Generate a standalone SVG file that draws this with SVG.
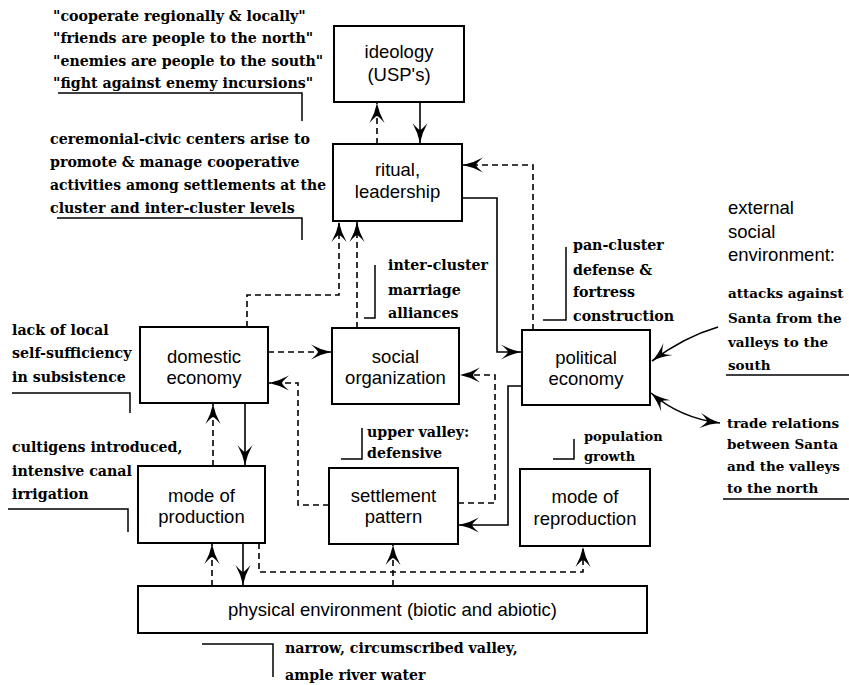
<svg xmlns="http://www.w3.org/2000/svg" width="849" height="685" viewBox="0 0 849 685">
<style>
.box{fill:#fff;stroke:#000;stroke-width:2}
.bt{font-family:"Liberation Sans",Arial,sans-serif;font-size:18.5px;fill:#000;text-anchor:middle}
.ann{font-family:"DejaVu Serif","Liberation Serif",serif;font-weight:bold;font-size:14.2px;fill:#000}
.sm{font-size:13px}
.rt{font-size:13.5px}
.ext{font-family:"Liberation Sans",Arial,sans-serif;font-size:18.5px;fill:#000}
.ln{fill:none;stroke:#000;stroke-width:1.5}
.solid{fill:none;stroke:#000;stroke-width:1.6}
.dash{fill:none;stroke:#000;stroke-width:1.6;stroke-dasharray:6 4}
</style>
<defs>
<marker id="ah" viewBox="-22 -10 24 20" refX="0" refY="0" markerWidth="24" markerHeight="20" markerUnits="userSpaceOnUse" orient="auto-start-reverse">
<path d="M0,0 Q-10,-2 -20,-7.5 Q-14,-2.5 -13,0 Q-14,2.5 -20,7.5 Q-10,2 0,0 Z" fill="#000"/>
</marker>
</defs>

<g id="connectors">
<path class="dash" d="M377,144 V103" marker-end="url(#ah)"/>
<path class="solid" d="M420,102 V143" marker-end="url(#ah)"/>
<path class="dash" d="M247,327 V295 H339 V222" marker-end="url(#ah)"/>
<path class="dash" d="M357,328 V222" marker-end="url(#ah)"/>
<path class="dash" d="M533,330 V165 H463" marker-end="url(#ah)"/>
<path class="solid" d="M462,198 H497 V352 H521" marker-end="url(#ah)"/>
<path class="dash" d="M268,352 H331" marker-end="url(#ah)"/>
<path class="dash" d="M329,505 H298 V383 H269" marker-end="url(#ah)"/>
<path class="dash" d="M458,503 H495 V375 H460" marker-end="url(#ah)"/>
<path class="solid" d="M522,386 H508 V525 H459" marker-end="url(#ah)"/>
<path class="solid" d="M718,327 Q684,337 652,361" marker-end="url(#ah)"/>
<path class="solid" d="M651,393 Q680,418 720,423" marker-start="url(#ah)" marker-end="url(#ah)"/>
<path class="dash" d="M213,466 V404" marker-end="url(#ah)"/>
<path class="solid" d="M245,403 V465" marker-end="url(#ah)"/>
<path class="dash" d="M212,586 V544" marker-end="url(#ah)"/>
<path class="solid" d="M243,543 V585" marker-end="url(#ah)"/>
<path class="dash" d="M259,543 V572 H583 V547" marker-end="url(#ah)"/>
<path class="dash" d="M393,586 V545" marker-end="url(#ah)"/>
</g>

<g id="ideology">
<rect class="box" x="334" y="26" width="130" height="76"/>
<text class="bt" x="399" y="58">ideology</text>
<text class="bt" x="399" y="81">(USP's)</text>
</g>
<g id="ritual">
<rect class="box" x="333" y="144" width="129" height="77"/>
<text class="bt" x="397.5" y="176">ritual,</text>
<text class="bt" x="397.5" y="198">leadership</text>
</g>
<g id="domestic-economy">
<rect class="box" x="140" y="327" width="128" height="76"/>
<text class="bt" x="204" y="363">domestic</text>
<text class="bt" x="204" y="384">economy</text>
</g>
<g id="social-organization">
<rect class="box" x="332" y="328" width="127" height="76"/>
<text class="bt" x="395.5" y="363">social</text>
<text class="bt" x="395.5" y="384">organization</text>
</g>
<g id="political-economy">
<rect class="box" x="522" y="330" width="128" height="75"/>
<text class="bt" x="586" y="364">political</text>
<text class="bt" x="586" y="385">economy</text>
</g>
<g id="mode-of-production">
<rect class="box" x="138" y="466" width="127" height="77"/>
<text class="bt" x="201.5" y="502">mode of</text>
<text class="bt" x="201.5" y="523">production</text>
</g>
<g id="settlement-pattern">
<rect class="box" x="329" y="468" width="129" height="76"/>
<text class="bt" x="393.5" y="502">settlement</text>
<text class="bt" x="393.5" y="523">pattern</text>
</g>
<g id="mode-of-reproduction">
<rect class="box" x="520" y="469" width="130" height="77"/>
<text class="bt" x="585" y="503">mode of</text>
<text class="bt" x="585" y="525">reproduction</text>
</g>
<g id="physical-environment">
<rect class="box" x="138" y="586" width="509" height="47"/>
<text class="bt" x="392.5" y="616">physical environment (biotic and abiotic)</text>
</g>

<g id="annotations">
<text class="ann" x="53" y="21">"cooperate regionally &amp; locally"</text>
<text class="ann" x="53" y="43">"friends are people to the north"</text>
<text class="ann" x="53" y="66">"enemies are people to the south"</text>
<text class="ann" x="53" y="88">"fight against enemy incursions"</text>
<path class="ln" d="M58,93 H302 V121"/>

<text class="ann" x="50" y="144">ceremonial-civic centers arise to</text>
<text class="ann" x="50" y="167">promote &amp; manage cooperative</text>
<text class="ann" x="50" y="190" textLength="276" lengthAdjust="spacingAndGlyphs">activities among settlements at the</text>
<text class="ann" x="50" y="213">cluster and inter-cluster levels</text>
<path class="ln" d="M57,218 H302 V240"/>

<text class="ann" x="388" y="270">inter-cluster</text>
<text class="ann" x="388" y="295">marriage</text>
<text class="ann" x="388" y="318">alliances</text>
<path class="ln" d="M375,265 V318 H364"/>

<text class="ann" x="573" y="250">pan-cluster</text>
<text class="ann" x="573" y="275">defense &amp;</text>
<text class="ann" x="573" y="297">fortress</text>
<text class="ann" x="573" y="321">construction</text>
<path class="ln" d="M566,247 V320 H543"/>

<text class="ann" x="12" y="335">lack of local</text>
<text class="ann" x="12" y="358">self-sufficiency</text>
<text class="ann" x="12" y="382">in subsistence</text>
<path class="ln" d="M12,393 H130 V413"/>

<text class="ann" x="12" y="452">cultigens introduced,</text>
<text class="ann" x="12" y="476">intensive canal</text>
<text class="ann" x="12" y="499">irrigation</text>
<path class="ln" d="M8,509 H128 V532"/>

<text class="ann" x="367" y="437">upper valley:</text>
<text class="ann" x="367" y="458">defensive</text>
<path class="ln" d="M362,428 V459 H341"/>

<text class="ann sm" x="584" y="441">population</text>
<text class="ann sm" x="584" y="461">growth</text>
<path class="ln" d="M574,439 V459 H553"/>

<text class="ann" x="285" y="653">narrow, circumscribed valley,</text>
<text class="ann" x="285" y="680">ample river water</text>
<path class="ln" d="M202,644 H273 V677"/>

<text class="ext" x="728" y="214">external</text>
<text class="ext" x="728" y="238">social</text>
<text class="ext" x="728" y="261">environment:</text>

<text class="ann rt" x="728" y="298">attacks against</text>
<text class="ann rt" x="728" y="323">Santa from the</text>
<text class="ann rt" x="728" y="347">valleys to the</text>
<text class="ann rt" x="728" y="370">south</text>
<path class="ln" d="M726,375 H849"/>

<text class="ann rt" x="727" y="428">trade relations</text>
<text class="ann rt" x="727" y="449">between Santa</text>
<text class="ann rt" x="727" y="471">and the valleys</text>
<text class="ann rt" x="727" y="493">to the north</text>
<path class="ln" d="M723,499 H849"/>
</g>
</svg>
